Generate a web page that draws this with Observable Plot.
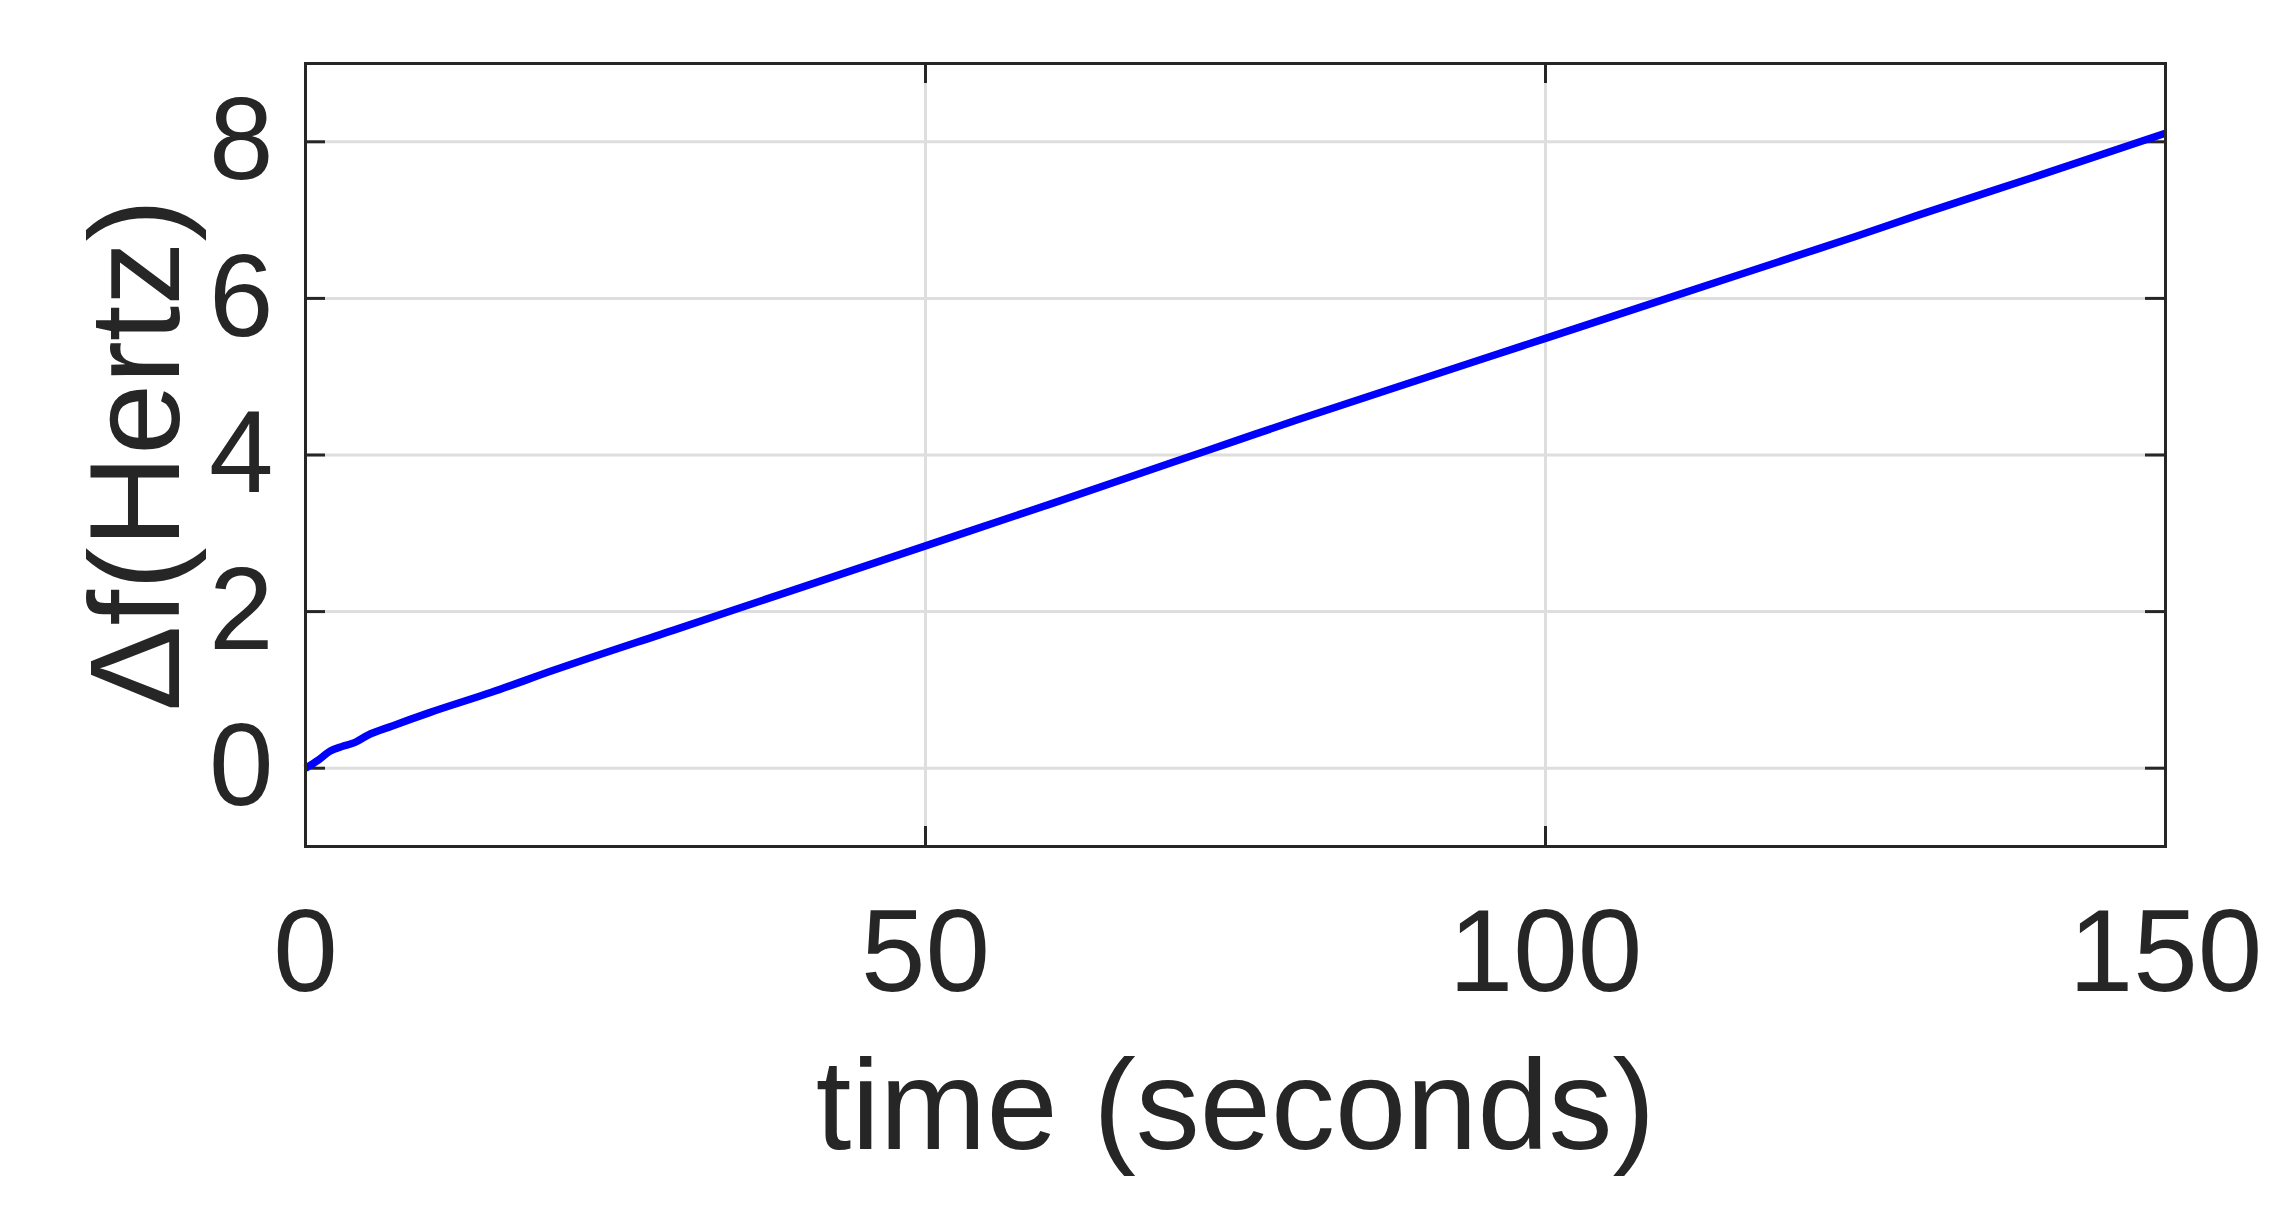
<!DOCTYPE html>
<html>
<head>
<meta charset="utf-8">
<script src="https://cdn.jsdelivr.net/npm/d3@7"></script>
<script src="https://cdn.jsdelivr.net/npm/@observablehq/plot@0.6"></script>
<style>
  html, body { margin: 0; padding: 0; background: #fff; }
  #chart svg { display: block; }
</style>
</head>
<body>
<div id="chart"></div>
<script>
// Data
const timeSec = [0, 1, 2, 3, 4, 5, 7, 10, 15, 20, 30, 40, 50, 60, 70, 75, 80, 90, 100, 110, 120, 125, 130, 140, 150];
const deltaF  = [0, 0.1, 0.22, 0.28, 0.33, 0.42, 0.54, 0.71, 0.97, 1.25, 1.78, 2.31, 2.84, 3.37, 3.91, 4.18, 4.45, 4.97, 5.49, 6.01, 6.53, 6.79, 7.06, 7.58, 8.11];
const xTicks = [0, 50, 100, 150];
const yTicks = [0, 2, 4, 6, 8];
const xGrid = [50, 100];
const xLabel = "time (seconds)";
const yLabel = "Δf(Hertz)";

const data = timeSec.map((t, i) => ({t, f: deltaF[i]}));

const W = 2281, H = 1206;
const mL = 305, mR = 116, mT = 63, mB = 360;
const pw = W - mL - mR, ph = H - mT - mB;
const tickLen = 20;
const ink = "#262626";
const font = "'Liberation Sans', Arial, Helvetica, sans-serif";

const chart = Plot.plot({
  width: W,
  height: H,
  marginLeft: mL,
  marginRight: mR,
  marginTop: mT,
  marginBottom: mB,
  style: {background: "#fff", fontFamily: font, color: ink},
  x: {domain: [0, 150]},
  y: {domain: [-1, 9]},
  marks: [
    Plot.gridX(xGrid, {stroke: "#dedede", strokeOpacity: 1, strokeWidth: 3}),
    Plot.gridY(yTicks, {stroke: "#dedede", strokeOpacity: 1, strokeWidth: 3}),
    // inward ticks
    Plot.tickY(yTicks, {y: d => d, stroke: ink, strokeWidth: 3, insetRight: pw - tickLen}),
    Plot.tickY(yTicks, {y: d => d, stroke: ink, strokeWidth: 3, insetLeft: pw - tickLen}),
    Plot.tickX(xTicks, {x: d => d, stroke: ink, strokeWidth: 3, insetTop: ph - tickLen}),
    Plot.tickX(xTicks, {x: d => d, stroke: ink, strokeWidth: 3, insetBottom: ph - tickLen}),
    Plot.line(data, {x: "t", y: "f", stroke: "#0000ff", strokeWidth: 7.5, curve: "monotone-x", strokeLinejoin: "round", strokeLinecap: "butt"}),
    Plot.axisX(xTicks, {anchor: "bottom", tickSize: 0, tickPadding: 62, fontSize: 116, fill: ink, label: null, tickFormat: d => String(d)}),
    Plot.axisY(yTicks, {anchor: "left", tickSize: 0, tickPadding: 32, fontSize: 116, fill: ink, label: null, tickFormat: d => String(d)}),
    Plot.frame({stroke: ink, strokeWidth: 3}),
    Plot.text([xLabel], {text: d => d, frameAnchor: "bottom", lineAnchor: "bottom", dy: 302, fontSize: 128, fill: ink}),
    Plot.text([yLabel], {text: d => d, frameAnchor: "left", textAnchor: "middle", lineAnchor: "bottom", rotate: -90, dx: -127, fontSize: 128, fill: ink})
  ]
});
document.getElementById("chart").appendChild(chart);
</script>
</body>
</html>
